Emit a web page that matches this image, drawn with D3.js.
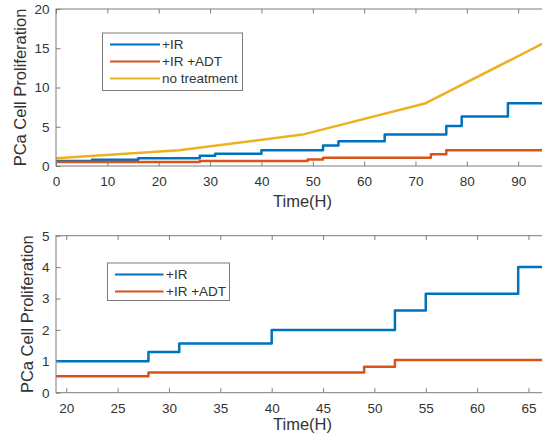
<!DOCTYPE html>
<html>
<head>
<meta charset="utf-8">
<script src="https://cdn.jsdelivr.net/npm/d3@7"></script>
<style>
  body { margin: 0; background: #fff; }
  svg { display: block; }
  text { font-family: "Liberation Sans", Arial, Helvetica, sans-serif; fill: #333; }
</style>
</head>
<body>
<svg id="fig" width="542" height="440"></svg>
<script>
// Proliferation under irradiation (+IR), irradiation with ADT, and untreated cells.
// Stepwise series: value holds from each time until the next one.
const irTimes   = [0, 7, 16, 28, 31, 40, 52, 55, 64, 76, 79, 88, 100];
const irValues  = [0.63, 0.79, 1.0, 1.3, 1.57, 2.0, 2.62, 3.15, 4.0, 5.1, 6.3, 8.0, 8.0];
const adtTimes  = [0, 28, 49, 52, 73, 76, 100];
const adtValues = [0.52, 0.64, 0.83, 1.04, 1.5, 2.0, 2.0];
// Untreated growth, sampled every 24 h.
const noTxTimes  = [0, 24, 48, 72, 96];
const noTxValues = [1, 2, 4, 8, 16];

const seriesNames = ["+IR", "+IR +ADT", "no treatment"];
const seriesColors = ["#0072BD", "#D95319", "#EDB120"];

const topXTicks = [0, 10, 20, 30, 40, 50, 60, 70, 80, 90];
const topYTicks = [0, 5, 10, 15, 20];
const botXTicks = [20, 25, 30, 35, 40, 45, 50, 55, 60, 65];
const botYTicks = [0, 1, 2, 3, 4, 5];

const xTitle = "Time(H)";
const yTitle = "PCa Cell Proliferation";

const toPoints = (ts, vs) => ts.map((t, i) => ({ t, v: vs[i] }));
const series = [
  { name: seriesNames[0], color: seriesColors[0], pts: toPoints(irTimes, irValues), curve: d3.curveStepAfter },
  { name: seriesNames[1], color: seriesColors[1], pts: toPoints(adtTimes, adtValues), curve: d3.curveStepAfter },
  { name: seriesNames[2], color: seriesColors[2], pts: toPoints(noTxTimes, noTxValues), curve: d3.curveLinear }
];

const panels = [
  {
    id: "top", xDomain: [0, 96], yDomain: [0, 20],
    left: 56, right: 549, top: 9, bottom: 166,
    xTicks: topXTicks, yTicks: topYTicks,
    show: [0, 1, 2],
    legend: { x: 102.5, y: 33, w: 140, h: 57.5, lineX0: 110, lineX1: 160, textX: 162, row0: 44.5, rowStep: 17 },
    yTitleX: 26, xTitleY: 206.5
  },
  {
    id: "bottom", xDomain: [19, 67], yDomain: [0, 5],
    left: 56, right: 549, top: 235.7, bottom: 392.7,
    xTicks: botXTicks, yTicks: botYTicks,
    show: [0, 1],
    legend: { x: 107.5, y: 263, w: 122, h: 37.5, lineX0: 115, lineX1: 163.5, textX: 166, row0: 274.5, rowStep: 17 },
    yTitleX: 33, xTitleY: 430
  }
];

const svg = d3.select("#fig");
const axisColor = "#7d7d7d";
const tickLen = 4.5;

panels.forEach(p => {
  const x = d3.scaleLinear().domain(p.xDomain).range([p.left, p.right]);
  const y = d3.scaleLinear().domain(p.yDomain).range([p.bottom, p.top]);
  const g = svg.append("g");

  const clipId = "clip-" + p.id;
  svg.append("clipPath").attr("id", clipId)
    .append("rect")
    .attr("x", p.left).attr("y", p.top)
    .attr("width", p.right - p.left).attr("height", p.bottom - p.top);

  // data lines
  const lines = g.append("g").attr("clip-path", `url(#${clipId})`);
  p.show.forEach(i => {
    const s = series[i];
    const line = d3.line().x(d => x(d.t)).y(d => y(d.v)).curve(s.curve);
    lines.append("path")
      .attr("d", line(s.pts))
      .attr("fill", "none")
      .attr("stroke", s.color)
      .attr("stroke-width", 2.5)
      .attr("stroke-linejoin", "round");
  });

  // axes with inward ticks
  const fontSize = 13.5;
  const xAxis = g.append("g").attr("transform", `translate(0,${p.bottom})`)
    .call(d3.axisBottom(x).tickValues(p.xTicks).tickSize(-tickLen).tickPadding(10.5).tickFormat(d3.format("d")));
  const xTop = g.append("g").attr("transform", `translate(0,${p.top})`)
    .call(d3.axisTop(x).tickValues(p.xTicks).tickSize(-tickLen).tickFormat(""));
  const yAxis = g.append("g").attr("transform", `translate(${p.left},0)`)
    .call(d3.axisLeft(y).tickValues(p.yTicks).tickSize(-tickLen).tickPadding(6.5).tickFormat(d3.format("d")));

  [xAxis, xTop, yAxis].forEach(a => {
    a.select(".domain").remove();
    a.selectAll(".tick line").attr("stroke", axisColor);
    a.selectAll(".tick text")
      .style("font-family", '"Liberation Sans", Arial, sans-serif')
      .style("font-size", fontSize + "px")
      .attr("fill", "#333");
  });

  // box
  g.append("rect")
    .attr("x", p.left).attr("y", p.top)
    .attr("width", p.right - p.left).attr("height", p.bottom - p.top)
    .attr("fill", "none").attr("stroke", axisColor).attr("stroke-width", 1);

  // titles
  g.append("text")
    .attr("x", (p.left + p.right) / 2).attr("y", p.xTitleY)
    .attr("text-anchor", "middle")
    .style("font-size", "16.5px")
    .text(xTitle);
  g.append("text")
    .attr("transform", `translate(${p.yTitleX},${(p.top + p.bottom) / 2}) rotate(-90)`)
    .attr("text-anchor", "middle")
    .style("font-size", "16.5px")
    .text(yTitle);

  // legend
  const L = p.legend;
  const lg = g.append("g");
  lg.append("rect")
    .attr("x", L.x).attr("y", L.y).attr("width", L.w).attr("height", L.h)
    .attr("fill", "#fff").attr("stroke", axisColor).attr("stroke-width", 1);
  p.show.forEach((i, k) => {
    const s = series[i];
    const ry = L.row0 + k * L.rowStep;
    lg.append("line")
      .attr("x1", L.lineX0).attr("x2", L.lineX1).attr("y1", ry).attr("y2", ry)
      .attr("stroke", s.color).attr("stroke-width", 2.2);
    lg.append("text")
      .attr("x", L.textX).attr("y", ry).attr("dy", "0.35em")
      .style("font-size", "13.5px")
      .text(s.name);
  });
});
</script>
</body>
</html>
